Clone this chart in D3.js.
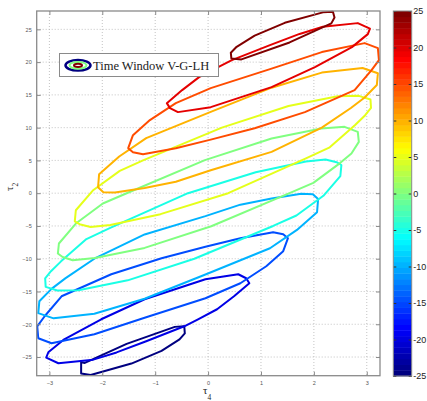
<!DOCTYPE html>
<html>
<head>
<meta charset="utf-8">
<script src="https://cdn.jsdelivr.net/npm/d3@7"></script>
<style>
  body { margin: 0; background: #fff; }
  svg { display: block; }
</style>
</head>
<body>
<div id="chart"></div>
<script>
// contour levels and tick labels
const levels = [-25, -20, -15, -10, -5, 0, 5, 10, 15, 20, 25]
const xTicks = [-3, -2, -1, 0, 1, 2, 3]
const yTicks = [-25, -20, -15, -10, -5, 0, 5, 10, 15, 20, 25]
const cbTicks = [-25, -20, -15, -10, -5, 0, 5, 10, 15, 20, 25]
const legendLabel = 'Time Window V-G-LH'

// contour outlines, [tau4, tau2]
const cM25 = [[-2.40,-25.8],[-2.40,-27.5],[-2.22,-27.75],[-1.45,-26.0],[-0.88,-24.05],[-0.54,-22.3],[-0.44,-21.4],[-0.45,-20.3],[-0.63,-20.4],[-1.54,-23.0],[-2.33,-25.9]]
const cM20 = [[-3.06,-25.1],[-3.02,-24.27],[-2.72,-22.29],[-2.02,-19.24],[-1.20,-16.18],[-0.05,-13.13],[0.57,-12.37],[0.72,-12.98],[0.78,-13.74],[0.49,-15.73],[0.17,-17.71],[-0.19,-19.24],[-0.45,-20.31],[-1.17,-22.6],[-1.73,-24.3],[-2.17,-25.4],[-2.83,-25.95]]
const cM15 = [[1.42,-8.85],[1.51,-6.87],[1.42,-6.26],[1.23,-5.95],[0.61,-6.87],[-0.05,-8.17],[-0.88,-9.92],[-1.83,-12.37],[-2.77,-15.73],[-3.09,-18.78],[-3.23,-20.31],[-3.21,-22.14],[-2.96,-22.9],[-2.15,-21.53],[-1.20,-19.0],[-0.05,-16.03],[0.61,-13.74],[1.10,-11.15]]
const cM10 = [[2.06,-2.9],[2.08,-0.9],[1.98,-0.15],[1.76,-0.1],[1.20,-0.8],[0.61,-1.75],[-0.05,-3.5],[-1.20,-6.3],[-2.15,-10.0],[-2.70,-13.0],[-2.96,-14.6],[-3.19,-16.5],[-3.21,-18.3],[-2.92,-19.1],[-2.15,-18.4],[-1.20,-16.1],[-0.05,-12.4],[1.17,-8.4],[1.68,-5.6]]
const cM5 = [[2.50,2.6],[2.52,4.3],[2.43,4.73],[2.22,5.15],[1.85,4.85],[0.90,3.2],[-0.38,0.0],[-1.85,-5.3],[-2.30,-7.0],[-2.78,-10.4],[-2.97,-11.9],[-3.08,-13.0],[-3.07,-14.3],[-2.85,-14.85],[-2.45,-14.8],[-1.52,-13.3],[-0.26,-10.0],[1.23,-5.0],[1.67,-3.4],[2.18,-0.4]]
const c0 = [[-2.82,-7.68],[-2.84,-9.21],[-2.75,-9.73],[-2.56,-10.23],[-2.14,-9.88],[-1.20,-8.35],[0.06,-5.04],[1.55,0.05],[1.99,1.57],[2.50,4.63],[2.71,6.06],[2.85,7.83],[2.83,9.36],[2.58,10.12],[2.14,9.88],[1.20,8.35],[-0.06,5.04],[-1.55,-0.05],[-1.99,-1.57],[-2.50,-4.63]]
const c5 = [[-2.50,-2.6],[-2.52,-4.3],[-2.43,-4.73],[-2.22,-5.15],[-1.85,-4.85],[-0.90,-3.2],[0.38,0.0],[1.85,5.3],[2.30,7.0],[2.78,10.4],[2.97,11.9],[3.08,13.0],[3.07,14.3],[2.85,14.85],[2.45,14.8],[1.52,13.3],[0.26,10.0],[-1.23,5.0],[-1.67,3.4],[-2.18,0.4]]
const c10 = [[-2.06,2.9],[-2.08,0.9],[-1.98,0.15],[-1.76,0.1],[-1.20,0.8],[-0.61,1.75],[0.05,3.5],[1.20,6.3],[2.15,10.0],[2.70,13.0],[2.96,14.6],[3.19,16.5],[3.21,18.3],[2.92,19.1],[2.15,18.4],[1.20,16.1],[0.05,12.4],[-1.17,8.4],[-1.68,5.6]]
const c15 = [[-1.42,8.85],[-1.51,6.87],[-1.42,6.26],[-1.23,5.95],[-0.61,6.87],[0.05,8.17],[0.88,9.92],[1.83,12.37],[2.77,15.73],[3.09,18.78],[3.23,20.31],[3.21,22.14],[2.96,22.9],[2.15,21.53],[1.20,19.0],[0.05,16.03],[-0.61,13.74],[-1.10,11.15]]
const c20 = [[-0.78,13.74],[-0.49,15.73],[-0.17,17.71],[0.19,19.24],[0.45,20.31],[1.17,22.6],[1.73,24.3],[2.17,25.4],[2.83,25.95],[3.06,25.1],[3.02,24.27],[2.72,22.29],[2.02,19.24],[1.20,16.18],[0.05,13.13],[-0.57,12.37],[-0.72,12.98]]
const c25 = [[0.43,21.42],[0.44,20.56],[0.63,20.41],[1.54,23.0],[2.33,25.91],[2.39,26.82],[2.36,27.68],[2.17,27.59],[1.45,26.0],[0.88,24.05],[0.54,22.34]]

const contourPts = [cM25, cM20, cM15, cM10, cM5, c0, c5, c10, c15, c20, c25]

const W = 427, H = 401
const plot = { left: 36.7, right: 380, top: 11, bottom: 375.7 }
const cbar = { left: 393.3, right: 411.7, top: 11, bottom: 376 }

// jet colormap
function jet(t) {
    const c = v => Math.max(0, Math.min(1, v))
    const r = c(1.5 - Math.abs(4 * t - 3)),
        g = c(1.5 - Math.abs(4 * t - 2)),
        b = c(1.5 - Math.abs(4 * t - 1))
    return d3.rgb(r * 255, g * 255, b * 255).formatHex()
}
const colorOf = v => jet((v + 25) / 50)

const svg = d3.select('#chart')
    .append('svg')
    .attr('width', W)
    .attr('height', H)
    .style('background-color', '#ffffff')

const x = d3.scaleLinear().domain([-3.24, 3.25]).range([plot.left, plot.right])
const y = d3.scaleLinear().domain([-27.85, 27.8]).range([plot.bottom, plot.top])

// grid
const grid = svg.append('g')
grid.selectAll('line.gx')
    .data(xTicks)
    .enter()
    .append('line')
    .attr('x1', d => x(d)).attr('x2', d => x(d))
    .attr('y1', plot.top).attr('y2', plot.bottom)
    .attr('stroke', '#b4b4b4')
    .attr('stroke-width', 0.8)
    .attr('stroke-dasharray', '1,2')
grid.selectAll('line.gy')
    .data(yTicks)
    .enter()
    .append('line')
    .attr('y1', d => y(d)).attr('y2', d => y(d))
    .attr('x1', plot.left).attr('x2', plot.right)
    .attr('stroke', '#b4b4b4')
    .attr('stroke-width', 0.8)
    .attr('stroke-dasharray', '1,2')

// contours
const line = d3.line()
    .x(d => x(d[0]))
    .y(d => y(d[1]))
    .curve(d3.curveLinearClosed)

svg.append('g')
    .selectAll('path')
    .data(levels)
    .enter()
    .append('path')
    .attr('d', (d, i) => line(contourPts[i]))
    .attr('fill', 'none')
    .attr('stroke', d => colorOf(d))
    .attr('stroke-width', 2)
    .attr('stroke-linejoin', 'round')

// axes (ticks inside, labels tiny)
const axisColor = '#8a8a8a'
const xAxis = d3.axisBottom(x).tickValues(xTicks).tickSize(-4).tickPadding(5).tickFormat(d3.format('d'))
const yAxis = d3.axisLeft(y).tickValues(yTicks).tickSize(-4).tickPadding(5).tickFormat(d3.format('d'))
const xTop = d3.axisTop(x).tickValues(xTicks).tickSize(-4).tickFormat('')
const yRight = d3.axisRight(y).tickValues(yTicks).tickSize(-4).tickFormat('')

const styleAxis = g => {
    g.select('.domain').remove()
    g.selectAll('line').attr('stroke', axisColor)
    g.selectAll('text')
        .attr('fill', '#555')
        .style('font-family', 'Liberation Sans, Arial, sans-serif')
        .style('font-size', '5.5px')
}
svg.append('g').attr('transform', `translate(0,${plot.bottom})`).call(xAxis).call(styleAxis)
svg.append('g').attr('transform', `translate(${plot.left},0)`).call(yAxis).call(styleAxis)
svg.append('g').attr('transform', `translate(0,${plot.top})`).call(xTop).call(styleAxis)
svg.append('g').attr('transform', `translate(${plot.right},0)`).call(yRight).call(styleAxis)

svg.append('rect')
    .attr('x', plot.left).attr('y', plot.top)
    .attr('width', plot.right - plot.left)
    .attr('height', plot.bottom - plot.top)
    .attr('fill', 'none')
    .attr('stroke', axisColor)
    .attr('stroke-width', 1.3)

// axis labels
svg.append('text')
    .attr('x', 203)
    .attr('y', 394)
    .style('font-family', 'Liberation Serif, Times New Roman, serif')
    .style('font-size', '11px')
    .attr('fill', '#222')
    .text('τ')
    .append('tspan')
    .attr('dy', 6)
    .style('font-size', '7.5px')
    .text('4')

svg.append('text')
    .attr('transform', 'translate(13,191) rotate(-90)')
    .style('font-family', 'Liberation Serif, Times New Roman, serif')
    .style('font-size', '11px')
    .attr('fill', '#222')
    .text('τ')
    .append('tspan')
    .attr('dy', 5)
    .style('font-size', '7.5px')
    .text('2')

// legend
const leg = svg.append('g')
leg.append('rect')
    .attr('x', 59.5).attr('y', 53.5)
    .attr('width', 159).attr('height', 23)
    .attr('fill', '#fff')
    .attr('stroke', '#8a8a8a')
    .attr('stroke-width', 1)
const legRings = [[-25, 12.5, 5.3, 2.5], [0, 8.5, 3.4, 2], [25, 4, 1.6, 2]]
leg.selectAll('ellipse')
    .data(legRings)
    .enter()
    .append('ellipse')
    .attr('cx', 78)
    .attr('cy', 65.3)
    .attr('rx', d => d[1])
    .attr('ry', d => d[2])
    .attr('fill', 'none')
    .attr('stroke', d => colorOf(d[0]))
    .attr('stroke-width', d => d[3])
leg.append('text')
    .attr('x', 93)
    .attr('y', 69.5)
    .style('font-family', 'Liberation Serif, Times New Roman, serif')
    .style('font-size', '12.5px')
    .attr('fill', '#222')
    .text(legendLabel)

// colorbar
const cy = d3.scaleLinear().domain([-25, 25]).range([cbar.bottom, cbar.top])
const nBands = 64
const bandH = (cbar.bottom - cbar.top) / nBands
svg.append('g')
    .selectAll('rect')
    .data(d3.range(nBands))
    .enter()
    .append('rect')
    .attr('x', cbar.left)
    .attr('y', i => cbar.bottom - (i + 1) * bandH)
    .attr('width', cbar.right - cbar.left)
    .attr('height', bandH + 0.4)
    .attr('fill', i => jet(i / (nBands - 1)))

const cbAxisR = d3.axisRight(cy).tickValues(cbTicks).tickSize(-3).tickPadding(1.5).tickFormat(d3.format('d'))
const cbAxisL = d3.axisLeft(cy).tickValues(cbTicks).tickSize(-3).tickFormat('')
svg.append('g').attr('transform', `translate(${cbar.right},0)`).call(cbAxisR)
    .call(g => {
        g.select('.domain').remove()
        g.selectAll('line').attr('stroke', '#333')
        g.selectAll('text')
            .attr('fill', '#222')
            .style('font-family', 'Liberation Sans, Arial, sans-serif')
            .style('font-size', '9px')
            .text(d => d < 0 ? '-' + Math.abs(d) : d)
    })
svg.append('g').attr('transform', `translate(${cbar.left},0)`).call(cbAxisL)
    .call(g => {
        g.select('.domain').remove()
        g.selectAll('line').attr('stroke', '#333')
    })
svg.append('rect')
    .attr('x', cbar.left).attr('y', cbar.top)
    .attr('width', cbar.right - cbar.left)
    .attr('height', cbar.bottom - cbar.top)
    .attr('fill', 'none')
    .attr('stroke', axisColor)
    .attr('stroke-width', 1)
</script>
</body>
</html>
